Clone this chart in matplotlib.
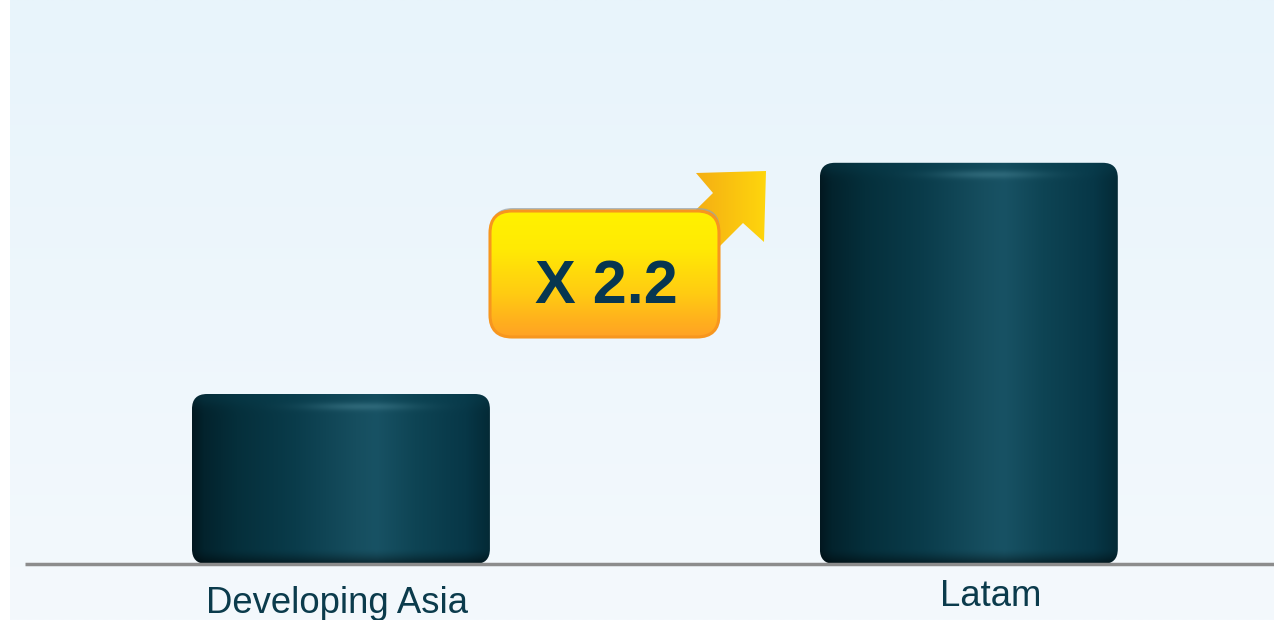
import numpy as np
import matplotlib
matplotlib.use("Agg")
import matplotlib.pyplot as plt
from matplotlib.patches import FancyBboxPatch, Polygon
from matplotlib.colors import to_rgb
from matplotlib.transforms import offset_copy

# ---- data ----
categories = ["Developing Asia", "Latam"]
values = [1.0, 2.36]
multiplier_label = "X 2.2"

# ---- layout / style ----
W, H = 1274, 620
label_offsets_px = [(-4, -49), (22, -42)]
label_color = "#0B3B4C"
plt.rcParams["font.family"] = ["Liberation Sans", "DejaVu Sans"]


def lerp_colors(stops, t):
    pos = np.array([s[0] for s in stops])
    cols = np.array([to_rgb(s[1]) for s in stops])
    return np.stack([np.interp(t, pos, cols[:, i]) for i in range(3)], axis=-1)


fig = plt.figure(figsize=(W / 100, H / 100), dpi=100)
fig.patch.set_facecolor("white")

# background
bg = fig.add_axes([0, 0, 1, 1], zorder=0)
bg.set_xlim(0, W)
bg.set_ylim(H, 0)
bg.axis("off")
tv = np.linspace(0, 1, 256)[:, None]
bgimg = lerp_colors([(0, "#E8F4FB"), (1, "#F4F9FD")], tv)
bgimg = np.repeat(bgimg, 2, axis=1)
bg.imshow(bgimg, extent=(10, W, H, 0), aspect="auto", interpolation="bilinear")
bg.set_xlim(0, W)
bg.set_ylim(H, 0)

# data axes
ax = fig.add_axes([0, 56 / H, 1, 510 / H], zorder=1)
ax.patch.set_alpha(0)
ax.axis("off")
x = np.arange(len(categories))
bar_w = 0.4745
bars = ax.bar(x, values, width=bar_w, color="none", edgecolor="none")
ax.set_xlim(-0.543, 1.486)
ax.set_ylim(0, 3.0)

px_per_x = W / (1.486 + 0.543)
px_per_y = 510 / 3.0
r_px = 15
r_x = r_px / px_per_x
aspect = px_per_x / px_per_y

hstops = [(0.00, "#021820"), (0.04, "#03232D"), (0.15, "#052F3B"), (0.35, "#0A3C4B"),
          (0.55, "#164E5F"), (0.62, "#185264"), (0.75, "#0E4454"), (0.92, "#073747"),
          (1.00, "#042A36")]

for rect in bars:
    x0, y0 = rect.get_x(), rect.get_y()
    w, h = rect.get_width(), rect.get_height()
    wpx = int(round(w * px_per_x))
    hpx = int(round(h * px_per_y))
    u = np.linspace(0, 1, wpx)
    base = lerp_colors(hstops, u)[None, :, :]
    yy = np.arange(hpx)[:, None]
    img = np.repeat(base, hpx, axis=0)
    cap = np.exp(-((yy - 2) / 10.0) ** 2)[:, :, None] * 0.35
    capcol = np.array(to_rgb("#0A4252"))[None, None, :]
    img = img * (1 - cap) + capcol * cap
    glow = (np.exp(-((yy - 12) / 4.0) ** 2) *
            np.exp(-((u[None, :] - 0.57) / 0.18) ** 2))[:, :, None] * 0.45
    glowcol = np.array(to_rgb("#4A8595"))[None, None, :]
    img = img * (1 - glow) + glowcol * glow
    bd = np.clip((yy - (hpx - 16)) / 16.0, 0, 1)[:, :, None] ** 1.5 * 0.55
    img = img * (1 - bd)
    clip = FancyBboxPatch((x0, y0), w, h,
                          boxstyle=f"round,pad=0,rounding_size={r_x}",
                          mutation_aspect=aspect, transform=ax.transData,
                          facecolor="none", edgecolor="none")
    ax.add_patch(clip)
    im = ax.imshow(img, extent=(x0, x0 + w, y0, y0 + h), aspect="auto",
                   interpolation="bilinear", origin="upper", zorder=2)
    im.set_clip_path(clip)

ax.set_xlim(-0.543, 1.486)
ax.set_ylim(0, 3.0)

# baseline
ax.plot([-0.503, 1.486], [0, 0], color="#8C8C8C", lw=2.5, zorder=3,
        solid_capstyle="butt", clip_on=False)

# category labels
for xi, cat, (dx, dy) in zip(x, categories, label_offsets_px):
    tr = offset_copy(ax.transData, fig=fig, x=dx, y=dy, units="dots")
    ax.text(xi, 0, cat, transform=tr, ha="center", va="baseline",
            fontsize=26.3, color=label_color, clip_on=False)

# overlay: multiplier badge and arrow
ov = fig.add_axes([0, 0, 1, 1], zorder=3)
ov.patch.set_alpha(0)
ov.axis("off")

arrow = Polygon([(650, 255), (713, 193), (696, 173), (766, 171), (764, 242),
                 (743, 223), (680, 286)], closed=True, facecolor="none",
                edgecolor="none")
ov.add_patch(arrow)
au = np.linspace(0, 1, 128)[None, :]
aimg = np.repeat(lerp_colors([(0, "#EFA014"), (0.5, "#F6B313"), (1, "#FFD80C")], au), 4, axis=0)
aim = ov.imshow(aimg, extent=(640, 770, 290, 168), aspect="auto",
                interpolation="bilinear", zorder=1)
aim.set_clip_path(arrow)

bx0, by0, bw, bh = 490, 211, 229, 126
shadow = FancyBboxPatch((bx0 + 1, by0 - 3), bw, bh,
                        boxstyle="round,pad=0,rounding_size=22",
                        facecolor="#9AA4A8", edgecolor="none", alpha=0.75, zorder=2)
ov.add_patch(shadow)
badge_clip = FancyBboxPatch((bx0, by0), bw, bh,
                            boxstyle="round,pad=0,rounding_size=22",
                            facecolor="none", edgecolor="none")
ov.add_patch(badge_clip)
bv = np.linspace(0, 1, 256)[:, None]
bimg = np.repeat(lerp_colors([(0, "#FFF200"), (0.3, "#FFEA04"), (0.65, "#FFCC12"),
                              (1, "#FFA124")], bv), 2, axis=1)
bim = ov.imshow(bimg, extent=(bx0, bx0 + bw, by0 + bh, by0), aspect="auto",
                interpolation="bilinear", zorder=3)
bim.set_clip_path(badge_clip)
border = FancyBboxPatch((bx0, by0), bw, bh,
                        boxstyle="round,pad=0,rounding_size=22",
                        facecolor="none", edgecolor="#F7961E", lw=2.2, zorder=4)
ov.add_patch(border)
ov.text(bx0 + bw / 2 + 2, 303, multiplier_label, ha="center",
        va="baseline", fontsize=44, fontweight="bold", color="#073650", zorder=5)

ov.set_xlim(0, W)
ov.set_ylim(H, 0)

fig.savefig("out.png", dpi=100)
